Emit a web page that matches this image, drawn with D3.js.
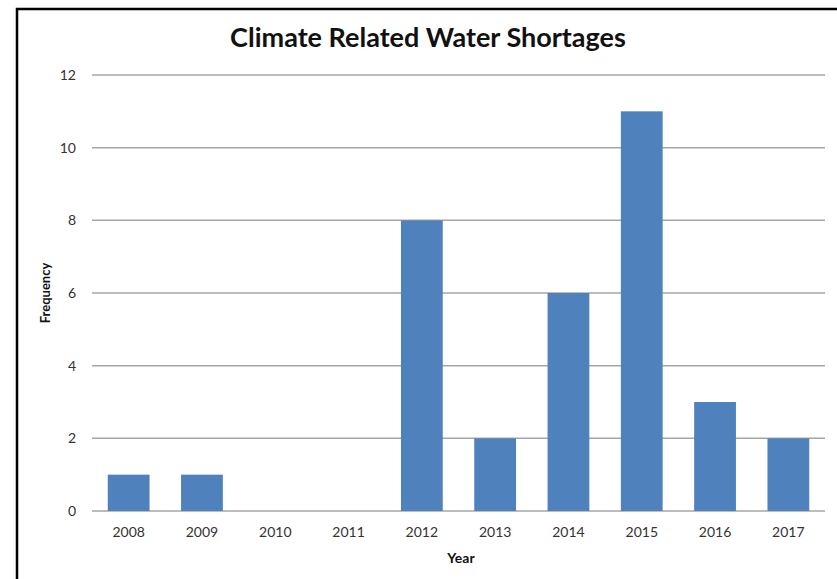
<!DOCTYPE html>
<html>
<head>
<meta charset="utf-8">
<script src="https://cdn.jsdelivr.net/npm/d3@7"></script>
<style>
body{margin:0;background:#fff;}
svg{display:block;font-family:Lato,"Open Sans",sans-serif;}
</style>
</head>
<body>
<script>
var years = ["2008","2009","2010","2011","2012","2013","2014","2015","2016","2017"];
var frequency = [1,1,0,0,8,2,6,11,3,2];
var yTicks = [0,2,4,6,8,10,12];

var WIDTH = 837, HEIGHT = 579;
var MARGIN = {top:75, left:92, right:12, bottom:68};
var INNER_WIDTH = WIDTH - MARGIN.left - MARGIN.right;
var INNER_HEIGHT = HEIGHT - MARGIN.top - MARGIN.bottom;

var svg = d3.select('body').append('svg')
	.attr('width',WIDTH)
	.attr('height',HEIGHT);

// frame
svg.append('path')
	.attr('d','M17,579 V9 H837')
	.attr('fill','none')
	.attr('stroke','#000')
	.attr('stroke-width',2.5);

var xScale = d3.scaleBand().domain(years).range([0,INNER_WIDTH]).paddingInner(0.43).paddingOuter(0.215);
var yScale = d3.scaleLinear().domain([0,12]).range([INNER_HEIGHT,0]);

var g = svg.append('g').attr('transform','translate('+MARGIN.left+','+MARGIN.top+')');

g.selectAll('.grid').data(yTicks).enter()
	.append('line')
	.attr('x1',0).attr('x2',INNER_WIDTH)
	.attr('y1',function(d){return yScale(d)})
	.attr('y2',function(d){return yScale(d)})
	.attr('stroke','#a6a6a6')
	.attr('stroke-width',1.5);

var yAxis = g.append('g').call(d3.axisLeft(yScale).tickValues(yTicks).tickSize(0).tickPadding(16));
yAxis.select('.domain').remove();
yAxis.selectAll('text').attr('font-size',14).attr('fill','#333').attr('font-family','Lato,sans-serif');

g.selectAll('.bar').data(frequency).enter()
	.append('rect')
	.attr('x',function(d,i){return xScale(years[i])})
	.attr('y',function(d){return yScale(d)})
	.attr('width',xScale.bandwidth())
	.attr('height',function(d){return INNER_HEIGHT - yScale(d)})
	.attr('fill','#4f81bd');

var xAxis = g.append('g').attr('transform','translate(0,'+INNER_HEIGHT+')')
	.call(d3.axisBottom(xScale).tickSize(0).tickPadding(16));
xAxis.select('.domain').remove();
xAxis.selectAll('text').attr('font-size',14).attr('fill','#333').attr('font-family','Lato,sans-serif');

svg.append('text')
	.attr('x',428).attr('y',47)
	.attr('text-anchor','middle')
	.attr('font-size',27).attr('font-weight','bold')
	.attr('fill','#111')
	.text('Climate Related Water Shortages');

svg.append('text')
	.attr('x',461).attr('y',563)
	.attr('text-anchor','middle')
	.attr('font-size',14).attr('font-weight','bold')
	.attr('fill','#111')
	.text('Year');

svg.append('text')
	.attr('transform','translate(50,293) rotate(-90)')
	.attr('text-anchor','middle')
	.attr('font-size',13).attr('font-weight','bold')
	.attr('fill','#111')
	.text('Frequency');
</script>
</body>
</html>
